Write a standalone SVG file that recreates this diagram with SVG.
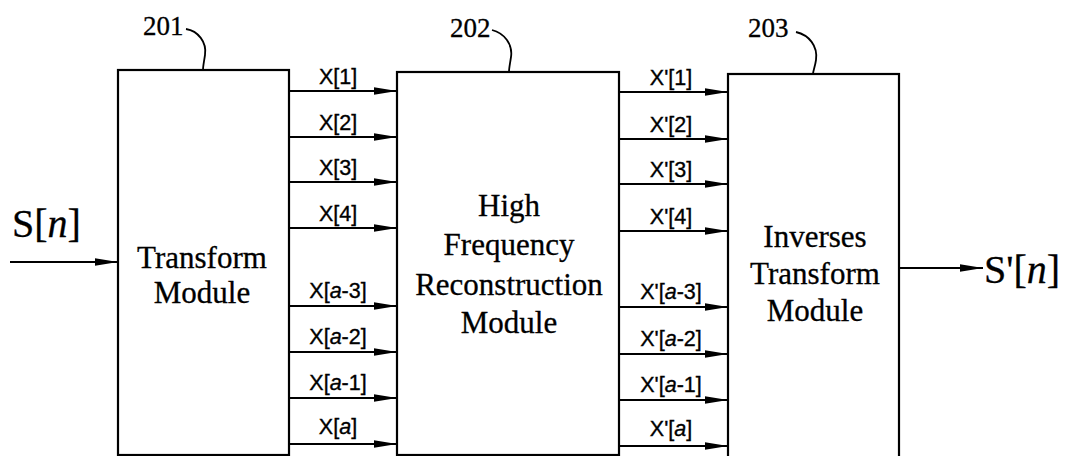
<svg xmlns="http://www.w3.org/2000/svg" width="1071" height="456" viewBox="0 0 1071 456">
  <defs>
    <marker id="ah" markerUnits="userSpaceOnUse" markerWidth="26" markerHeight="10" refX="23" refY="4.5" orient="auto">
      <path d="M0,0.8 L23,4.5 L0,8.2 Z" fill="#000"/>
    </marker>
    <style>
      .box { fill: #fff; stroke: #000; stroke-width: 2.2; }
      .ln { fill: none; stroke: #000; stroke-width: 1.8; marker-end: url(#ah); }
      .lead { fill: none; stroke: #000; stroke-width: 1.8; }
      .bt { font-family: "Liberation Serif", "Times New Roman", serif; font-size: 31px; text-anchor: middle; fill: #000; stroke: #000; stroke-width: 0.3; }
      .ref { font-family: "Liberation Serif", "Times New Roman", serif; font-size: 27px; fill: #000; stroke: #000; stroke-width: 0.3; }
      .sig { font-family: "Liberation Serif", "Times New Roman", serif; font-size: 40px; fill: #000; stroke: #000; stroke-width: 0.3; }
      .lb { font-family: "Liberation Sans", Arial, sans-serif; font-size: 21.5px; text-anchor: middle; fill: #000; stroke: #000; stroke-width: 0.35; }
    </style>
  </defs>
  <rect width="1071" height="456" fill="#fff"/>

  <g id="node-201">
    <rect class="box" x="118" y="70" width="171" height="385"/>
    <text class="bt" x="202" y="268">Transform</text>
    <text class="bt" x="202" y="303">Module</text>
    <text class="ref" x="143" y="35">201</text>
    <path class="lead" d="M186,29 C198,31 207,42 205,55 C204,62 203,66 203,70"/>
  </g>

  <g id="node-202">
    <rect class="box" x="397" y="72" width="222" height="383"/>
    <text class="bt" x="509" y="216">High</text>
    <text class="bt" x="509" y="255">Frequency</text>
    <text class="bt" x="509" y="295">Reconstruction</text>
    <text class="bt" x="509" y="333">Module</text>
    <text class="ref" x="450" y="37">202</text>
    <path class="lead" d="M492,30 C504,33 513,44 511,57 C510,64 509,68 509,72"/>
  </g>

  <g id="node-203">
    <rect class="box" x="728" y="74" width="171" height="390"/>
    <text class="bt" x="815" y="247">Inverses</text>
    <text class="bt" x="815" y="284">Transform</text>
    <text class="bt" x="815" y="321">Module</text>
    <text class="ref" x="748" y="37">203</text>
    <path class="lead" d="M796,32 C809,35 818,46 816,60 C815,67 813,71 813,74"/>
  </g>

  <g id="connectors">
    <line class="ln" x1="10" y1="262" x2="118" y2="262"/>
    <line class="ln" x1="289" y1="91" x2="397" y2="91"/>
    <line class="ln" x1="289" y1="137" x2="397" y2="137"/>
    <line class="ln" x1="289" y1="182" x2="397" y2="182"/>
    <line class="ln" x1="289" y1="228" x2="397" y2="228"/>
    <line class="ln" x1="289" y1="306" x2="397" y2="306"/>
    <line class="ln" x1="289" y1="352" x2="397" y2="352"/>
    <line class="ln" x1="289" y1="398" x2="397" y2="398"/>
    <line class="ln" x1="289" y1="444" x2="397" y2="444"/>
    <line class="ln" x1="619" y1="92" x2="728" y2="92"/>
    <line class="ln" x1="619" y1="139" x2="728" y2="139"/>
    <line class="ln" x1="619" y1="184" x2="728" y2="184"/>
    <line class="ln" x1="619" y1="231" x2="728" y2="231"/>
    <line class="ln" x1="619" y1="307" x2="728" y2="307"/>
    <line class="ln" x1="619" y1="354" x2="728" y2="354"/>
    <line class="ln" x1="619" y1="400" x2="728" y2="400"/>
    <line class="ln" x1="619" y1="446" x2="728" y2="446"/>
    <line class="ln" x1="899" y1="268" x2="983" y2="268"/>
  </g>

  <g id="labels">
    <text class="sig" x="12" y="237">S[<tspan font-style="italic">n</tspan>]</text>
    <text class="sig" x="984" y="283">S'[<tspan font-style="italic">n</tspan>]</text>

    <text class="lb" x="338" y="84">X[1]</text>
    <text class="lb" x="338" y="130">X[2]</text>
    <text class="lb" x="338" y="175">X[3]</text>
    <text class="lb" x="338" y="221">X[4]</text>
    <text class="lb" x="338" y="298">X[<tspan font-style="italic">a</tspan>-3]</text>
    <text class="lb" x="338" y="344">X[<tspan font-style="italic">a</tspan>-2]</text>
    <text class="lb" x="338" y="390">X[<tspan font-style="italic">a</tspan>-1]</text>
    <text class="lb" x="338" y="434">X[<tspan font-style="italic">a</tspan>]</text>

    <text class="lb" x="671" y="85">X'[1]</text>
    <text class="lb" x="671" y="132">X'[2]</text>
    <text class="lb" x="671" y="177">X'[3]</text>
    <text class="lb" x="671" y="224">X'[4]</text>
    <text class="lb" x="671" y="299">X'[<tspan font-style="italic">a</tspan>-3]</text>
    <text class="lb" x="671" y="346">X'[<tspan font-style="italic">a</tspan>-2]</text>
    <text class="lb" x="671" y="392">X'[<tspan font-style="italic">a</tspan>-1]</text>
    <text class="lb" x="671" y="436">X'[<tspan font-style="italic">a</tspan>]</text>
  </g>
</svg>
